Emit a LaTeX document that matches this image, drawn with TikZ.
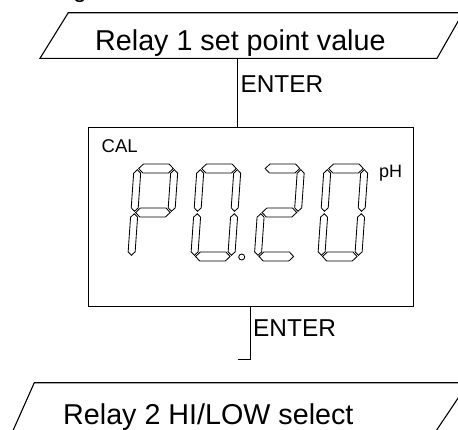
\documentclass[tikz,border=0pt]{standalone}
\usepackage{fontspec}
\setmainfont{Liberation Sans}
\tikzset{
  frameline/.style={draw=black, line width=1.1pt},
  boxline/.style={draw=black, line width=1.3pt},
  conn/.style={draw=black, line width=1pt},
  seg/.style={draw=black, line width=0.85pt, line join=miter, fill=white},
  bigtext/.style={anchor=base west, inner sep=0pt, font=\fontsize{28.7}{30}\selectfont},
  keytext/.style={anchor=base west, inner sep=0pt, font=\fontsize{24.4}{26}\selectfont},
  lcdtext/.style={anchor=base west, inner sep=0pt, font=\fontsize{18.5}{20}\selectfont},
}
\newcommand\segH[1]{\draw[seg] (4.7,#1) -- (9.2,#1+4.5) -- (34.8,#1+4.5) -- (39.3,#1) -- (34.8,#1-4.5) -- (9.2,#1-4.5) -- cycle;}
\newcommand\segV[3]{\draw[seg] (#1,#2) -- (#1+3.5,#2+3.5) -- (#1+3.5,#3-3.5) -- (#1,#3) -- (#1-3.5,#3-3.5) -- (#1-3.5,#2+3.5) -- cycle;}
\newcommand\sA{\segH{92.5}}
\newcommand\sG{\segH{48.5}}
\newcommand\sD{\segH{4.5}}
\newcommand\sF{\segV{3.5}{49.7}{91.3}}
\newcommand\sB{\segV{40.5}{49.7}{91.3}}
\newcommand\sE{\segV{3.5}{5.7}{47.3}}
\newcommand\sC{\segV{40.5}{5.7}{47.3}}
\begin{document}
\begin{tikzpicture}[x=1pt,y=-1pt]
\useasboundingbox (0,0) rectangle (458,429);
\clip (0,0) rectangle (458,429);

% partial heading descender
\node[keytext] (hd) at (73,-3) {g};

% top parallelogram
\coordinate (p1bl) at (40,58.3);
\coordinate (p1tl) at (68.3,12.7);
\coordinate (p1tr) at (463,12.7);
\coordinate (p1br) at (437,58.3);
\draw[frameline, line join=miter] (p1bl) -- (p1tl) -- (p1tr) -- (p1br) -- cycle;
\node[bigtext] (t1) at (95,50) {Relay 1 set point value};
\coordinate (p1out) at (237.7,58.3);

% display box
\node[boxline, rectangle, minimum width=325pt, minimum height=179pt, inner sep=0pt] (disp) at (251,217) {};
\node[lcdtext] (cal) at (101.5,152.7) {CAL};
\node[lcdtext, font=\fontsize{18}{20}\selectfont] (ph) at (379,177) {pH};

% connector 1
\draw[conn] (p1out) -- (p1out |- disp.north);
\node[keytext] (enter1) at (240.3,92) {ENTER};

% connector 2
\coordinate (c2end) at (250.5,359.3);
\coordinate (tick) at (238.3,359.3);
\draw[conn] (c2end |- disp.south) -- (c2end) -- (tick);
\node[keytext] (enter2) at (253,336.5) {ENTER};

% bottom parallelogram
\coordinate (p2bl) at (8.8,440);
\coordinate (p2tl) at (34.3,382.7);
\coordinate (p2tr) at (468.4,382.7);
\coordinate (p2br) at (430,440);
\draw[frameline, line join=miter] (p2bl) -- (p2tl) -- (p2tr) -- (p2br) -- cycle;
\node[bigtext] (t2) at (63,424) {Relay 2 HI/LOW select};

% seven segment digits: P 0 . 2 0
\begin{scope}[shift={(127.5,261)}, x=1pt, y=1pt, xslant=0.07]
\sA \sB \sF \sG \sE
\end{scope}
\begin{scope}[shift={(190.5,261)}, x=1pt, y=1pt, xslant=0.07]
\sA \sB \sC \sD \sE \sF
\end{scope}
\begin{scope}[shift={(254,261)}, x=1pt, y=1pt, xslant=0.07]
\sA \sB \sG \sE \sD
\end{scope}
\begin{scope}[shift={(317.5,261)}, x=1pt, y=1pt, xslant=0.07]
\sA \sB \sC \sD \sE \sF
\end{scope}
\node[draw=black, line width=0.85pt, circle, minimum size=6pt, inner sep=0pt] (dp) at (241.7,257) {};
\end{tikzpicture}
\end{document}
